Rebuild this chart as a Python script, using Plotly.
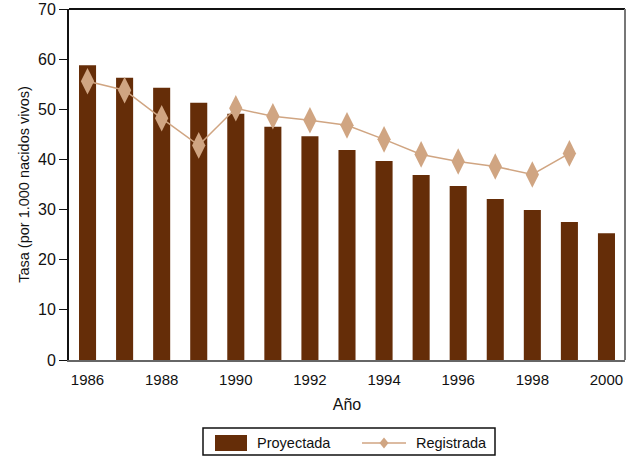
import plotly.graph_objects as go

years = list(range(1986, 2001))
proyectada = [58.8, 56.3, 54.3, 51.3, 49.1, 46.5, 44.6, 41.9, 39.7, 36.9, 34.7, 32.1, 29.9, 27.5, 25.3]
reg_years = list(range(1986, 2000))
registrada = [55.6, 53.8, 48.2, 42.8, 50.2, 48.6, 47.8, 46.8, 44.0, 41.0, 39.6, 38.6, 37.0, 41.2]
tick_vals = [1986, 1988, 1990, 1992, 1994, 1996, 1998, 2000]

FONT = "Liberation Sans Narrow, Arial Narrow, Liberation Sans, Arial, sans-serif"
BAR = "#652d08"
LINE = "#d0a582"

fig = go.Figure()
fig.add_trace(go.Bar(x=years, y=proyectada, name="Proyectada", marker_color=BAR,
                     marker_line_width=0, width=0.46, showlegend=False))
fig.add_trace(go.Scatter(x=reg_years, y=registrada, name="Registrada", mode="lines+markers",
                         line=dict(color=LINE, width=1.5), showlegend=False,
                         marker=dict(symbol="diamond-tall", size=19, color=LINE)))

# custom legend (paper coordinates)
def px_x(p):
    return (p - 69) / 556.0

def px_y(p):
    return (360 - p) / 351.0

shapes = [
    dict(type="line", xref="paper", yref="paper", x0=0, x1=1, y0=1, y1=1,
         line=dict(color="#111", width=2)),
    dict(type="line", xref="paper", yref="paper", x0=1, x1=1, y0=0, y1=1,
         line=dict(color="#777", width=2)),
    dict(type="rect", xref="paper", yref="paper", x0=px_x(203), x1=px_x(495),
         y0=px_y(455), y1=px_y(428), line=dict(color="#111", width=1.5), fillcolor="white"),
    dict(type="rect", xref="paper", yref="paper", x0=px_x(215), x1=px_x(247),
         y0=px_y(451), y1=px_y(435), line=dict(width=0), fillcolor=BAR),
    dict(type="line", xref="paper", yref="paper", x0=px_x(362), x1=px_x(406),
         y0=px_y(443), y1=px_y(443), line=dict(color=LINE, width=1.5)),
]
cx, cy = px_x(384), px_y(443)
dx, dy = 4.5 / 556.0, 5.5 / 351.0
shapes.append(dict(type="path", xref="paper", yref="paper",
                   path=f"M {cx-dx} {cy} L {cx} {cy+dy} L {cx+dx} {cy} L {cx} {cy-dy} Z",
                   fillcolor=LINE, line=dict(width=0)))

annotations = [
    dict(text="Proyectada", xref="paper", yref="paper", x=px_x(255), y=px_y(443),
         xanchor="left", yanchor="middle", showarrow=False, font=dict(size=14.5)),
    dict(text="Registrada", xref="paper", yref="paper", x=px_x(414), y=px_y(443),
         xanchor="left", yanchor="middle", showarrow=False, font=dict(size=14.5)),
]

fig.update_layout(
    width=634, height=458,
    margin=dict(l=69, r=9, t=9, b=98, autoexpand=False),
    paper_bgcolor="white", plot_bgcolor="white",
    font=dict(family=FONT, size=16, color="#111"),
    showlegend=False,
    xaxis=dict(range=[1985.5, 2000.5], tickvals=tick_vals, showgrid=False, zeroline=False,
               showline=True, linecolor="#666", linewidth=2,
               ticks="outside", ticklen=5, tickcolor="rgba(0,0,0,0)",
               ticklabeloverflow="allow", automargin=False,
               title=dict(text="Año", standoff=12, font=dict(size=16)),
               tickfont=dict(size=15)),
    yaxis=dict(range=[0, 70], dtick=10, showgrid=False, zeroline=False,
               showline=True, linecolor="#111", linewidth=2, ticks="outside", ticklen=8,
               tickcolor="#111", tickfont=dict(size=16), ticklabeloverflow="allow",
               automargin=False,
               title=dict(text="Tasa (por 1.000 nacidos vivos)", standoff=5, font=dict(size=14.5))),
    shapes=shapes,
    annotations=annotations,
)

fig.write_html("out.html", config={"displayModeBar": False},
               post_script="document.body.style.margin='0';")
